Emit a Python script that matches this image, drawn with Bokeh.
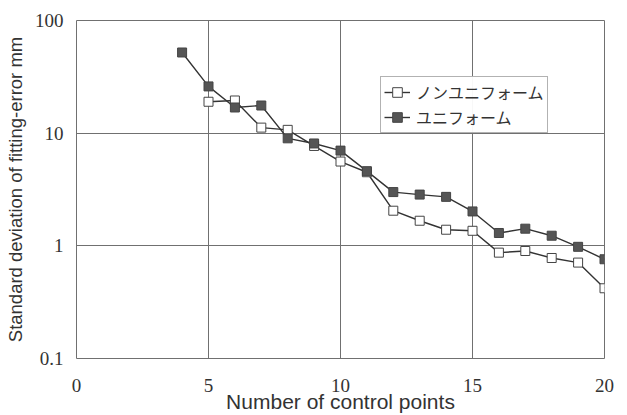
from bokeh.plotting import figure
from bokeh.models import FixedTicker, Legend, LegendItem
from bokeh.embed import file_html
from bokeh.resources import INLINE

x_nonuni = [5, 6, 7, 8, 9, 10, 11, 12, 13, 14, 15, 16, 17, 18, 19, 20]
y_nonuni = [19, 19.5, 11.2, 10.7, 7.7, 5.6, 4.5, 2.05, 1.67, 1.39, 1.36, 0.87, 0.9, 0.78, 0.71, 0.42]
x_uni = [4, 5, 6, 7, 8, 9, 10, 11, 12, 13, 14, 15, 16, 17, 18, 19, 20]
y_uni = [52, 26, 16.9, 17.6, 9.0, 8.1, 7.0, 4.6, 3.0, 2.85, 2.72, 2.02, 1.3, 1.42, 1.23, 0.98, 0.76]
x_ticks = [0, 5, 10, 15, 20]
y_ticks = [0.1, 1, 10, 100]
y_tick_labels = ["0.1", "1", "10", "100"]

FONT = "Liberation Sans"
NARROW = "Liberation Sans Narrow"
JP = "Noto Sans CJK JP"
GRID = "#707070"

p = figure(width=622, height=415, y_axis_type="log", x_range=(0, 20), y_range=(0.1, 100),
           output_backend="svg", toolbar_location=None,
           min_border_left=76, min_border_right=18, min_border_top=20, min_border_bottom=57)
p.background_fill_color = "white"
p.border_fill_color = "white"
p.outline_line_color = GRID

p.xaxis.ticker = FixedTicker(ticks=x_ticks)
p.yaxis.ticker = FixedTicker(ticks=y_ticks, minor_ticks=[])
p.yaxis.major_label_overrides = {t: l for t, l in zip(y_ticks, y_tick_labels)}
for ax in (p.xaxis[0], p.yaxis[0]):
    ax.major_tick_line_color = None
    ax.minor_tick_line_color = None
    ax.major_tick_out = 0
    ax.major_tick_in = 0
    ax.minor_tick_out = 0
    ax.minor_tick_in = 0
    ax.axis_line_color = None
    ax.major_label_text_font = NARROW
    ax.major_label_text_font_size = "19px"
    ax.major_label_text_color = "#333333"
    ax.axis_label_text_font = FONT
    ax.axis_label_text_font_style = "normal"
    ax.axis_label_text_color = "#333333"
p.xaxis.axis_label_text_font_size = "21px"
p.yaxis.axis_label_text_font_size = "18.5px"
p.xaxis.major_label_standoff = 20
p.xaxis.axis_label_standoff = -5
p.yaxis.major_label_standoff = 13
p.yaxis.axis_label_standoff = 6
p.xaxis.axis_label = "Number of control points"
p.yaxis.axis_label = "Standard deviation of fitting-error mm"

p.xgrid.grid_line_color = GRID
p.ygrid.grid_line_color = GRID

l1 = p.line(x_nonuni, y_nonuni, line_color="#333333", line_width=1.4)
m1 = p.scatter(x_nonuni, y_nonuni, marker="square", size=9, fill_color="white", line_color="#444444", line_width=1)
l2 = p.line(x_uni, y_uni, line_color="#333333", line_width=1.4)
m2 = p.scatter(x_uni, y_uni, marker="square", size=9, fill_color="#555555", line_color="#444444", line_width=1)

legend = Legend(items=[LegendItem(label="ノンユニフォーム", renderers=[l1, m1]),
                       LegendItem(label="ユニフォーム", renderers=[l2, m2])],
                location=(304, 225))
legend.label_text_font = JP
legend.label_text_font_size = "16px"
legend.label_text_color = "#333333"
legend.border_line_color = "#666666"
legend.padding = 3
legend.spacing = 1
legend.margin = 0
legend.glyph_width = 26
legend.glyph_height = 24
legend.label_height = 24
legend.label_standoff = 6
p.add_layout(legend, "center")

open("out.html", "w").write(file_html(p, INLINE))
